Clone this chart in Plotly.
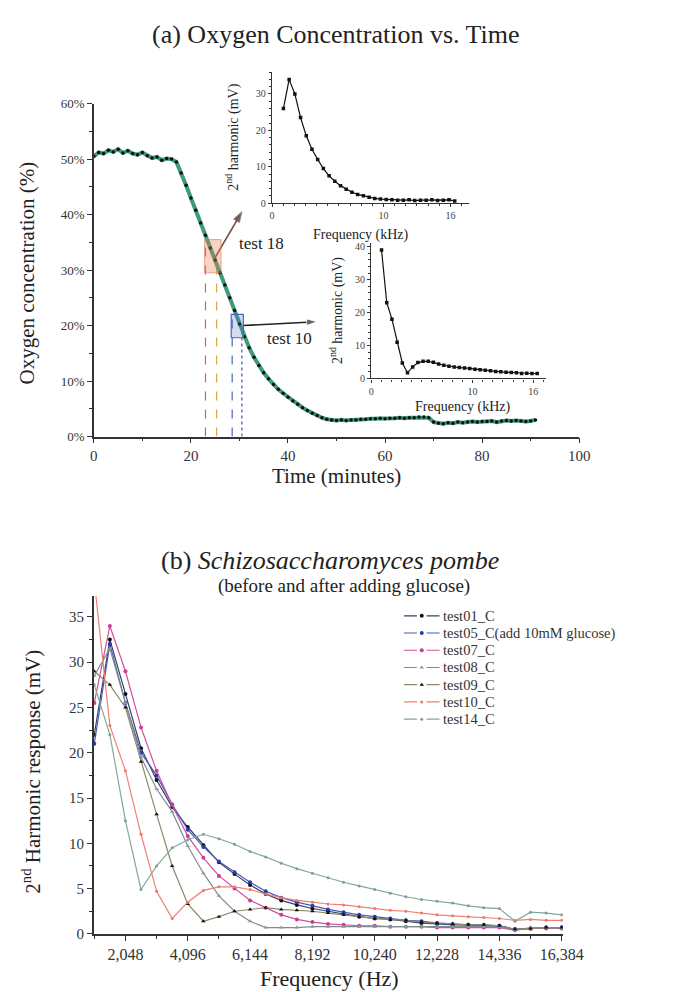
import plotly.graph_objects as go

# ---------------- data: panel (a) oxygen vs time ----------------
time_min = list(range(0, 92))
oxygen_pct = [50.5, 51.2, 51.0, 51.6, 51.3, 51.8, 51.1, 51.5, 51.0, 50.8,
              51.2, 50.6, 50.2, 50.4, 49.8, 50.1, 50.0, 49.5, 47.5, 45.3,
              43.0, 40.8, 38.5, 36.3, 34.0, 31.8, 29.5, 27.3, 25.0, 22.7,
              20.3, 18.0, 16.0, 14.3, 12.8, 11.5, 10.4, 9.4, 8.5, 7.8,
              7.1, 6.4, 5.8, 5.2, 4.7, 4.2, 3.8, 3.4, 3.1, 3.0,
              2.9, 3.0, 2.9, 3.0, 3.0, 3.1, 3.1, 3.2, 3.2, 3.3,
              3.2, 3.3, 3.3, 3.4, 3.3, 3.4, 3.4, 3.5, 3.5, 3.4,
              2.6, 2.4, 2.3, 2.5, 2.4, 2.6, 2.5, 2.6, 2.7, 2.6,
              2.7, 2.7, 2.8, 2.6, 2.8, 2.9, 2.8, 2.9, 2.8, 2.7,
              2.8, 3.0]

vline_t = [23.0, 25.3, 28.5, 30.5]
vline_top = [34.5, 31.5, 21.5, 19.5]
vline_color = ["#e05a5a", "#e8a040", "#4a62c8", "#3a52b8"]
vline_dash = ["dash", "dash", "dash", "dot"]

box18_t = [22.8, 26.2]
box18_y = [29.5, 35.5]
box10_t = [28.3, 30.8]
box10_y = [17.8, 22.0]

arrow18_t = [24.8, 30.5]
arrow18_y = [32.0, 40.5]
arrow10_t = [30.8, 46.0]
arrow10_y = [20.0, 20.7]

# ---------------- data: frequency sweeps ----------------
freq_hz = [1024, 1536, 2048, 2560, 3072, 3584, 4096, 4608, 5120, 5632,
           6144, 6656, 7168, 7680, 8192, 8704, 9216, 9728, 10240, 10752,
           11264, 11776, 12288, 12800, 13312, 13824, 14336, 14848, 15360, 15872,
           16384]

inset18_mv = [26, 34, 30, 23.5, 18.5, 14.8, 12, 9.5, 7.5, 6.0,
              4.8, 3.8, 3.0, 2.4, 2.0, 1.6, 1.3, 1.1, 1.0, 0.9,
              0.8, 0.8, 0.9, 0.7, 0.8, 0.8, 0.9, 0.7, 0.8, 0.9,
              0.6]

test01 = [22, 32.5, 26.5, 20.5, 17.0, 14.0, 11.8, 9.8, 7.9, 6.6,
          5.4, 4.4, 3.7, 3.2, 2.8, 2.5, 2.2, 1.9, 1.7, 1.6,
          1.4, 1.2, 1.1, 1.0, 1.0, 0.9, 0.9, 0.5, 0.6, 0.7, 0.7]
test05 = [21, 32.0, 25.5, 20.0, 17.5, 14.3, 11.5, 9.6, 8.0, 6.8,
          5.7, 4.7, 4.0, 3.5, 3.1, 2.7, 2.4, 2.1, 1.9, 1.7,
          1.5, 1.4, 1.2, 1.1, 1.0, 1.0, 0.9, 0.5, 0.6, 0.7, 0.7]
test07 = [25.5, 34, 29, 22.8, 18.0, 14.2, 10.8, 8.4, 6.4, 5.0,
          3.7, 2.9, 2.1, 1.6, 1.3, 1.1, 1.0, 0.9, 0.9, 0.8,
          0.8, 0.8, 0.7, 0.7, 0.7, 0.7, 0.7, 0.4, 0.6, 0.6, 0.6]
test08 = [28.5, 31.5, 25.5, 19.5, 16.0, 13.5, 9.7, 6.7, 4.2, 2.5,
          1.4, 0.7, 0.7, 0.7, 0.8, 0.8, 0.8, 0.8, 0.8, 0.8,
          0.8, 0.8, 0.8, 0.8, 0.8, 0.8, 0.8, 0.4, 0.7, 0.7, 0.6]
test09 = [29, 27.5, 25, 19.0, 13.2, 7.5, 3.3, 1.4, 1.9, 2.5,
          2.7, 2.9, 2.7, 2.6, 2.5, 2.3, 2.1, 1.9, 1.7, 1.6,
          1.5, 1.3, 1.2, 1.1, 1.0, 1.0, 0.9, 0.5, 0.6, 0.7, 0.7]
test10 = [39, 23, 18, 11, 4.7, 1.7, 3.5, 4.8, 5.2, 5.2,
          4.9, 4.4, 4.0, 3.7, 3.5, 3.3, 3.2, 3.0, 2.8, 2.6,
          2.5, 2.3, 2.1, 2.0, 1.9, 1.8, 1.7, 1.5, 1.6, 1.5, 1.5]
test14 = [27.5, 22, 12.5, 4.9, 7.5, 9.5, 10.4, 11.0, 10.5, 9.9,
          9.1, 8.5, 7.8, 7.2, 6.7, 6.2, 5.7, 5.3, 4.9, 4.5,
          4.1, 3.8, 3.6, 3.4, 3.1, 2.9, 2.8, 1.4, 2.4, 2.3, 2.1]

series_names = ["test01_C", "test05_C(add 10mM glucose)", "test07_C", "test08_C",
                "test09_C", "test10_C", "test14_C"]
series_vals = [test01, test05, test07, test08, test09, test10, test14]

freq_ticks = [2048, 4096, 6144, 8192, 10240, 12288, 14336, 16384]
freq_ticktext = ["2,048", "4,096", "6,144", "8,192", "10,240", "12,228", "14,336", "16,384"]

# ---------------- styling ----------------
W, H = 675, 992
SERIF = "Liberation Serif, Times New Roman, serif"
AX = "#333333"

def px(x):
    return x / W

def py(y):
    return 1 - y / H

line_colors = ["#3a3f6a", "#4a5ab8", "#d04fa0", "#7f8c94", "#8a8a66", "#f08070", "#80a898"]
marker_colors = ["#111111", "#2a3aa8", "#d03a98", "#8a9aa0", "#111111", "#f07868", "#8a9a98"]
marker_symbols = ["circle", "circle", "circle", "triangle-up", "triangle-up", "circle", "circle"]
marker_sizes = [4, 4, 4, 4, 4, 3, 3]

# legend layout (pixel positions of the hand-made legend)
leg_rows_y = [610, 627.5, 645, 662.5, 680, 697.5, 715]
leg_x0, leg_x1, leg_text_x = 407, 444, 447

fig = go.Figure()

# panel (a) main
for t, top, c, d in zip(vline_t, vline_top, vline_color, vline_dash):
    fig.add_trace(go.Scatter(x=[t, t], y=[0, top], mode="lines",
                             line=dict(color=c, width=1.2, dash=d),
                             xaxis="x", yaxis="y", showlegend=False, hoverinfo="skip"))

fig.add_trace(go.Scatter(x=time_min, y=oxygen_pct, mode="lines+markers",
                         line=dict(color="#3c9b78", width=4),
                         marker=dict(color="#111111", size=3.5),
                         xaxis="x", yaxis="y", showlegend=False))

# arrows
fig.add_trace(go.Scatter(x=arrow18_t, y=arrow18_y, mode="lines+markers",
                         line=dict(color="#7a4a3a", width=1.6),
                         marker=dict(symbol="arrow", angleref="previous", size=[0, 11],
                                     color="#222"),
                         xaxis="x", yaxis="y", showlegend=False, hoverinfo="skip"))
fig.add_trace(go.Scatter(x=arrow10_t, y=arrow10_y, mode="lines+markers",
                         line=dict(color="#222", width=1.6),
                         marker=dict(symbol="arrow", angleref="previous", size=[0, 11],
                                     color="#222"),
                         xaxis="x", yaxis="y", showlegend=False, hoverinfo="skip"))

# inset 1 (test 18)
freq_khz = [f / 1000 for f in freq_hz]
fig.add_trace(go.Scatter(x=freq_khz, y=inset18_mv, mode="lines+markers",
                         line=dict(color="#111111", width=1.2),
                         marker=dict(color="#111111", size=3.5, symbol="square"),
                         xaxis="x2", yaxis="y2", showlegend=False))
# inset 2 (test 10)
fig.add_trace(go.Scatter(x=freq_khz, y=test10, mode="lines+markers",
                         line=dict(color="#111111", width=1.2),
                         marker=dict(color="#111111", size=3.5, symbol="square"),
                         xaxis="x3", yaxis="y3", showlegend=False))

# panel (b)
for name, vals, lc, mc, ms, sz in zip(series_names, series_vals, line_colors,
                                      marker_colors, marker_symbols, marker_sizes):
    fig.add_trace(go.Scatter(x=freq_hz, y=vals, mode="lines+markers", name=name,
                             line=dict(color=lc, width=1.2),
                             marker=dict(color=mc, size=sz, symbol=ms),
                             xaxis="x4", yaxis="y4", showlegend=False))

# hand-made legend samples on a hidden pixel-unit axis
legend_ann = []
for name, yy, lc, mc, ms, sz in zip(series_names, leg_rows_y, line_colors,
                                    marker_colors, marker_symbols, marker_sizes):
    xm = (leg_x0 + leg_x1) / 2
    fig.add_trace(go.Scatter(x=[leg_x0, xm - 5, None, xm + 5, leg_x1],
                             y=[yy, yy, None, yy, yy], mode="lines",
                             line=dict(color=lc, width=1.2), xaxis="x5", yaxis="y5",
                             showlegend=False, hoverinfo="skip"))
    fig.add_trace(go.Scatter(x=[xm], y=[yy], mode="markers",
                             marker=dict(color=mc, size=sz, symbol=ms), xaxis="x5", yaxis="y5",
                             showlegend=False, hoverinfo="skip"))
    legend_ann.append(dict(x=leg_text_x, y=yy, xref="x5", yref="y5", text=name,
                           showarrow=False, xanchor="left", yanchor="middle", borderpad=0,
                           font=dict(family=SERIF, size=14.5, color="#333")))

def axstyle(**kw):
    d = dict(showline=True, linecolor=AX, linewidth=1.5, ticks="outside",
             ticklen=5, tickwidth=1.2, tickcolor=AX, showgrid=False, zeroline=False,
             tickfont=dict(family=SERIF, size=14, color="#333"))
    d.update(kw)
    return d

fig.update_layout(
    width=W, height=H, autosize=False,
    margin=dict(l=0, r=0, t=0, b=0),
    paper_bgcolor="white", plot_bgcolor="rgba(0,0,0,0)",
    font=dict(family=SERIF, color="#222"),
    showlegend=False,
    xaxis=axstyle(domain=[px(85), px(589)], range=[0, 100], dtick=20,
                  minor=dict(dtick=10, ticks="outside", ticklen=3, tickcolor=AX),
                  anchor="y", tickfont=dict(family=SERIF, size=15, color="#333")),
    yaxis=axstyle(domain=[py(428), py(90)], range=[0, 60], dtick=10, ticksuffix="%",
                  minor=dict(dtick=5, ticks="outside", ticklen=3, tickcolor=AX),
                  anchor="x", tickfont=dict(family=SERIF, size=13, color="#333")),
    xaxis2=axstyle(domain=[px(270), px(475)], range=[0, 17.7], tickvals=[0, 10, 16],
                   minor=dict(dtick=1, ticks="outside", ticklen=2, tickcolor=AX),
                   anchor="y2", ticklen=3, linewidth=1.3,
                   tickfont=dict(family=SERIF, size=10, color="#444")),
    yaxis2=axstyle(domain=[py(191), py(58)], range=[0, 36], tickvals=[0, 10, 20, 30],
                   minor=dict(dtick=2, ticks="outside", ticklen=2, tickcolor=AX),
                   anchor="x2", ticklen=3, linewidth=1.3,
                   tickfont=dict(family=SERIF, size=10, color="#444")),
    xaxis3=axstyle(domain=[px(373), px(555)], range=[0, 17.3], tickvals=[0, 10, 16],
                   minor=dict(dtick=1, ticks="outside", ticklen=2, tickcolor=AX),
                   anchor="y3", ticklen=3, linewidth=1.3,
                   tickfont=dict(family=SERIF, size=10, color="#444")),
    yaxis3=axstyle(domain=[py(369), py(232)], range=[0, 41], tickvals=[0, 10, 20, 30, 40],
                   minor=dict(dtick=2, ticks="outside", ticklen=2, tickcolor=AX),
                   anchor="x3", ticklen=3, linewidth=1.3,
                   tickfont=dict(family=SERIF, size=10, color="#444")),
    xaxis4=axstyle(domain=[px(85), px(572)], range=[1010, 16420],
                   tickvals=freq_ticks, ticktext=freq_ticktext,
                   minor=dict(dtick=1024, tick0=0, ticks="outside", ticklen=3, tickcolor=AX),
                   anchor="y4", tickfont=dict(family=SERIF, size=16, color="#333")),
    yaxis4=axstyle(domain=[py(933), py(590)], range=[0, 37.3], dtick=5,
                   minor=dict(dtick=2.5, ticks="outside", ticklen=3, tickcolor=AX),
                   anchor="x4", tickfont=dict(family=SERIF, size=15, color="#333")),
    xaxis5=dict(domain=[px(400), px(675)], range=[400, 675], visible=False,
                anchor="y5", fixedrange=True),
    yaxis5=dict(domain=[py(730), py(596)], range=[730, 596], visible=False,
                anchor="x5", fixedrange=True),
)

shapes = [
    dict(type="rect", xref="x", yref="y", x0=box18_t[0], x1=box18_t[1],
         y0=box18_y[0], y1=box18_y[1], line=dict(color="rgba(220,120,90,0.6)", width=1),
         fillcolor="rgba(230,130,90,0.35)"),
    dict(type="rect", xref="x", yref="y", x0=box10_t[0], x1=box10_t[1],
         y0=box10_y[0], y1=box10_y[1], line=dict(color="#4a62c8", width=1.2),
         fillcolor="rgba(80,110,200,0.25)"),
]
fig.update_layout(shapes=shapes)

ann = []
ann.append(dict(x=29.5, y=34.8, xref="x", yref="y", text="test 18", showarrow=False,
                xanchor="left", yanchor="middle", font=dict(family=SERIF, size=17, color="#222")))
ann.append(dict(x=35.2, y=17.6, xref="x", yref="y", text="test 10", showarrow=False,
                xanchor="left", yanchor="middle", font=dict(family=SERIF, size=17, color="#222")))

def txt(x, y, s, size, angle=0, **kw):
    d = dict(x=px(x), y=py(y), xref="paper", yref="paper", text=s, showarrow=False,
             xanchor="center", yanchor="middle", textangle=angle,
             font=dict(family=SERIF, size=size, color="#222"))
    d.update(kw)
    return d

ann += [
    txt(336, 20, "(a) Oxygen Concentration vs. Time", 26),
    txt(16, 262, "Oxygen concentration (%)", 21, -90),
    txt(337, 468, "Time (minutes)", 21),
    txt(229, 124, "2<sup>nd</sup> harmonic (mV)", 14, -90),
    txt(362, 223, "Frequency (kHz)", 14),
    txt(337, 300, "2<sup>nd</sup> harmonic (mV)", 14, -90),
    txt(468, 398, "Frequency (kHz)", 14),
    txt(330, 554, "(b) <i>Schizosaccharomyces pombe</i>", 26),
    txt(345, 580, "(before and after adding glucose)", 19),
    txt(20, 768, "2<sup>nd</sup> Harmonic response (mV)", 21, -90),
    txt(330, 978, "Frequency (Hz)", 22),
]
fig.update_layout(annotations=ann + legend_ann)

fig.write_html("out.html")
